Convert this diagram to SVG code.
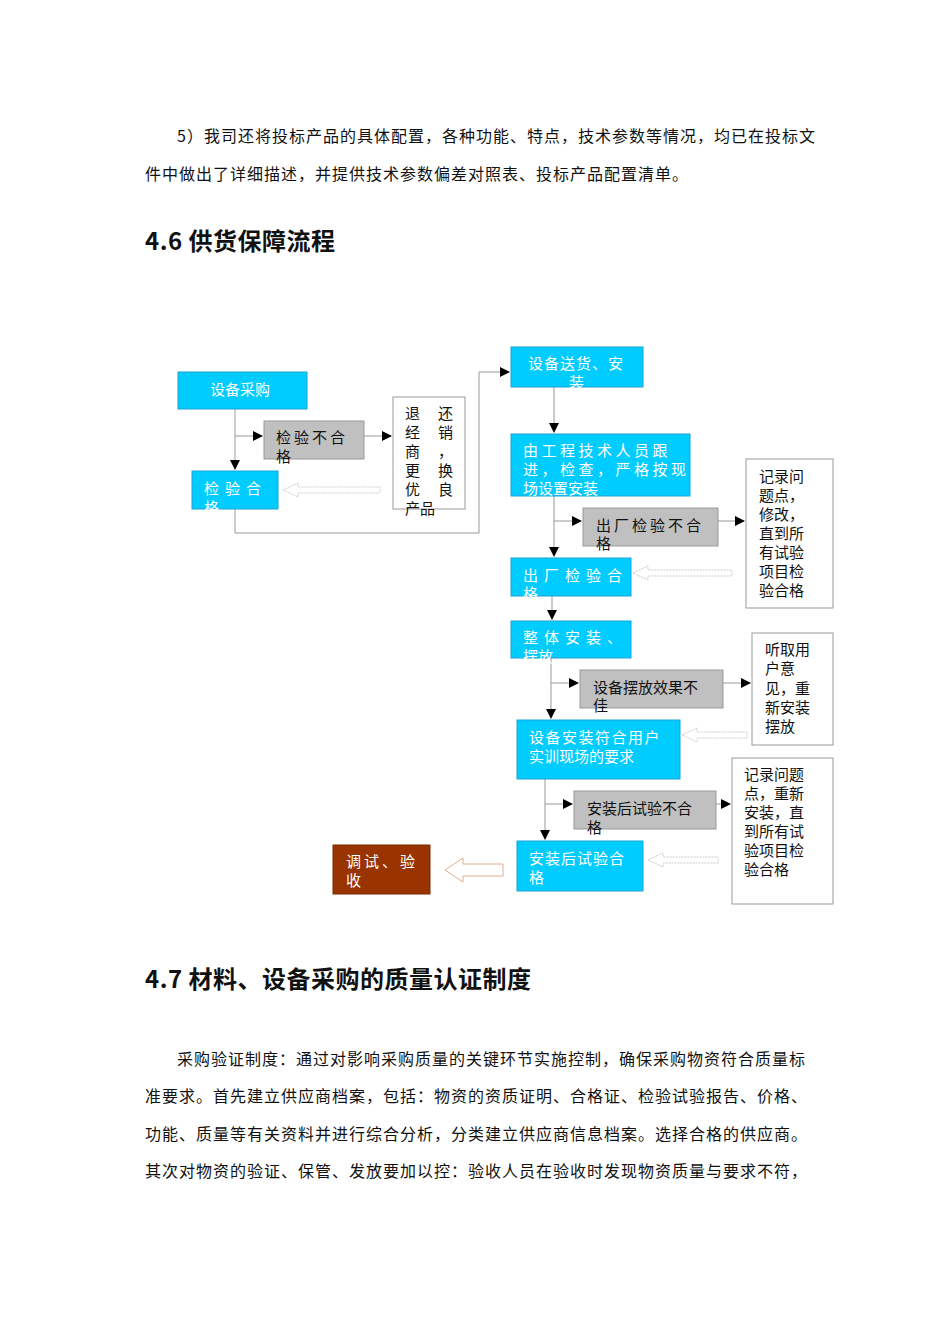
<svg xmlns="http://www.w3.org/2000/svg" width="950" height="1344" viewBox="0 0 950 1344">
<style>
.t{font-family:"Noto Sans CJK SC","Noto Sans",sans-serif;font-size:16px;letter-spacing:1px;fill:#111}
.h{font-family:"Noto Sans CJK SC","Noto Sans",sans-serif;font-size:24px;letter-spacing:0.5px;font-weight:bold;fill:#111}
.b{fill:#00ccff;stroke:#1aa3d6;stroke-width:1}
.g{fill:#c0c0c0;stroke:#999;stroke-width:1}
.w{fill:#fff;stroke:#999;stroke-width:1}
.wt{font-family:"Noto Sans CJK SC",sans-serif;font-size:15px;fill:#fff}
.kt{font-family:"Noto Sans CJK SC",sans-serif;font-size:15px;fill:#111}
.ln{fill:none;stroke:#999;stroke-width:1}
.hol{fill:#fff;stroke:#ccc;stroke-width:1;stroke-dasharray:2 1}
</style>
<defs><marker id="a" markerWidth="10" markerHeight="10" refX="9" refY="5" orient="auto" markerUnits="userSpaceOnUse"><path d="M0,0 L10,5 L0,10 Z" fill="#000"/></marker></defs>
<text class="t" x="177" y="142">5）我司还将投标产品的具体配置，各种功能、特点，技术参数等情况，均已在投标文</text>
<text class="t" x="145" y="180">件中做出了详细描述，并提供技术参数偏差对照表、投标产品配置清单。</text>
<text class="h" x="145" y="250">4.6 供货保障流程</text>
<g id="connectors">
<path class="ln" d="M235,409 V469" marker-end="url(#a)"/>
<path class="ln" d="M235,436 H262" marker-end="url(#a)"/>
<path class="ln" d="M364,436 H391" marker-end="url(#a)"/>
<path class="ln" d="M235,509 V533 H479 V372 H509" marker-end="url(#a)"/>
<path class="ln" d="M554,387 V432" marker-end="url(#a)"/>
<path class="ln" d="M554,496 V556" marker-end="url(#a)"/>
<path class="ln" d="M554,521 H581" marker-end="url(#a)"/>
<path class="ln" d="M718,521 H744" marker-end="url(#a)"/>
<path class="ln" d="M552,596 V619" marker-end="url(#a)"/>
<path class="ln" d="M551,658 V718" marker-end="url(#a)"/>
<path class="ln" d="M551,683 H578" marker-end="url(#a)"/>
<path class="ln" d="M723,683 H750" marker-end="url(#a)"/>
<path class="ln" d="M545,779 V839" marker-end="url(#a)"/>
<path class="ln" d="M545,804 H572" marker-end="url(#a)"/>
<path class="ln" d="M716,804 H730" marker-end="url(#a)"/>
<path class="hol" d="M283,490 L298,483 V487 H380 V493 H298 V497 Z"/>
<path class="hol" d="M633,573 L648,566 V570 H732 V576 H648 V580 Z"/>
<path class="hol" d="M682,735 L697,728 V732 H747 V738 H697 V742 Z"/>
<path class="hol" d="M648,860 L663,853 V857 H718 V863 H663 V867 Z"/>
<path d="M445,870 L463,858 V864 H503 V876 H463 V882 Z" fill="#fff" stroke="#e0b090" stroke-width="1"/>
</g>
<g id="n1"><rect class="b" x="178" y="372" width="129" height="37"/><text class="wt" x="210" y="395">设备采购</text></g>
<g id="n2"><rect class="g" x="264" y="421" width="100" height="38"/><text class="kt" x="276" y="443" letter-spacing="3">检验不合</text><text class="kt" x="276" y="462">格</text></g>
<g id="n3"><rect class="w" x="393" y="397" width="72" height="112"/>
<text class="kt" x="405" y="419">退</text><text class="kt" x="405" y="438">经</text><text class="kt" x="405" y="457">商</text><text class="kt" x="405" y="476">更</text><text class="kt" x="405" y="495">优</text><text class="kt" x="405" y="514">产品</text>
<text class="kt" x="438" y="419">还</text><text class="kt" x="438" y="438">销</text><text class="kt" x="438" y="457">，</text><text class="kt" x="438" y="476">换</text><text class="kt" x="438" y="495">良</text></g>
<g id="n4"><rect class="b" x="192" y="471" width="86" height="38"/><text class="wt" x="204" y="494" letter-spacing="6">检验合</text><text class="wt" x="204" y="513">格</text></g>
<g id="n5"><rect class="b" x="511" y="347" width="132" height="40"/><text class="wt" x="528" y="369" letter-spacing="1">设备送货、安</text><text class="wt" x="569" y="388">装</text></g>
<g id="n6"><rect class="b" x="511" y="434" width="179" height="62"/><text class="wt" x="523" y="456" letter-spacing="3.5">由工程技术人员跟</text><text class="wt" x="523" y="475" letter-spacing="3.5">进，检查，严格按现</text><text class="wt" x="523" y="494">场设置安装</text></g>
<g id="n7"><rect class="g" x="583" y="508" width="135" height="38"/><text class="kt" x="596" y="531" letter-spacing="3">出厂检验不合</text><text class="kt" x="596" y="549">格</text></g>
<g id="n8"><rect class="w" x="746" y="459" width="87" height="149"/><text class="kt" x="759" y="482">记录问</text><text class="kt" x="759" y="501">题点，</text><text class="kt" x="759" y="520">修改，</text><text class="kt" x="759" y="539">直到所</text><text class="kt" x="759" y="558">有试验</text><text class="kt" x="759" y="577">项目检</text><text class="kt" x="759" y="596">验合格</text></g>
<g id="n9"><rect class="b" x="511" y="558" width="120" height="38"/><text class="wt" x="523" y="581" letter-spacing="6">出厂检验合</text><text class="wt" x="523" y="599">格</text></g>
<g id="n10"><rect class="b" x="511" y="621" width="120" height="37"/><text class="wt" x="523" y="643" letter-spacing="6">整体安装、</text><text class="wt" x="523" y="662">摆放</text></g>
<g id="n11"><rect class="g" x="580" y="670" width="143" height="38"/><text class="kt" x="593" y="693">设备摆放效果不</text><text class="kt" x="593" y="711">佳</text></g>
<g id="n12"><rect class="w" x="752" y="633" width="81" height="112"/><text class="kt" x="765" y="655">听取用</text><text class="kt" x="765" y="674">户意</text><text class="kt" x="765" y="694">见，重</text><text class="kt" x="765" y="713">新安装</text><text class="kt" x="765" y="732">摆放</text></g>
<g id="n13"><rect class="b" x="517" y="720" width="163" height="59"/><text class="wt" x="529" y="743" letter-spacing="1.5">设备安装符合用户</text><text class="wt" x="529" y="762">实训现场的要求</text></g>
<g id="n14"><rect class="g" x="574" y="791" width="142" height="38"/><text class="kt" x="587" y="814">安装后试验不合</text><text class="kt" x="587" y="833">格</text></g>
<g id="n15"><rect class="w" x="732" y="758" width="101" height="146"/><text class="kt" x="744" y="780">记录问题</text><text class="kt" x="744" y="799">点，重新</text><text class="kt" x="744" y="818">安装，直</text><text class="kt" x="744" y="837">到所有试</text><text class="kt" x="744" y="856">验项目检</text><text class="kt" x="744" y="875">验合格</text></g>
<g id="n16"><rect class="b" x="517" y="841" width="126" height="50"/><text class="wt" x="529" y="864" letter-spacing="1">安装后试验合</text><text class="wt" x="529" y="883">格</text></g>
<g id="n17"><rect x="333" y="845" width="97" height="49" fill="#993300" stroke="#7a2900"/><text class="wt" x="346" y="867" letter-spacing="3">调试、验</text><text class="wt" x="346" y="886">收</text></g>
<text class="h" x="145" y="988">4.7 材料、设备采购的质量认证制度</text>
<text class="t" x="177" y="1065">采购验证制度：通过对影响采购质量的关键环节实施控制，确保采购物资符合质量标</text>
<text class="t" x="145" y="1102">准要求。首先建立供应商档案，包括：物资的资质证明、合格证、检验试验报告、价格、</text>
<text class="t" x="145" y="1140">功能、质量等有关资料并进行综合分析，分类建立供应商信息档案。选择合格的供应商。</text>
<text class="t" x="145" y="1177">其次对物资的验证、保管、发放要加以控：验收人员在验收时发现物资质量与要求不符，</text>
</svg>
